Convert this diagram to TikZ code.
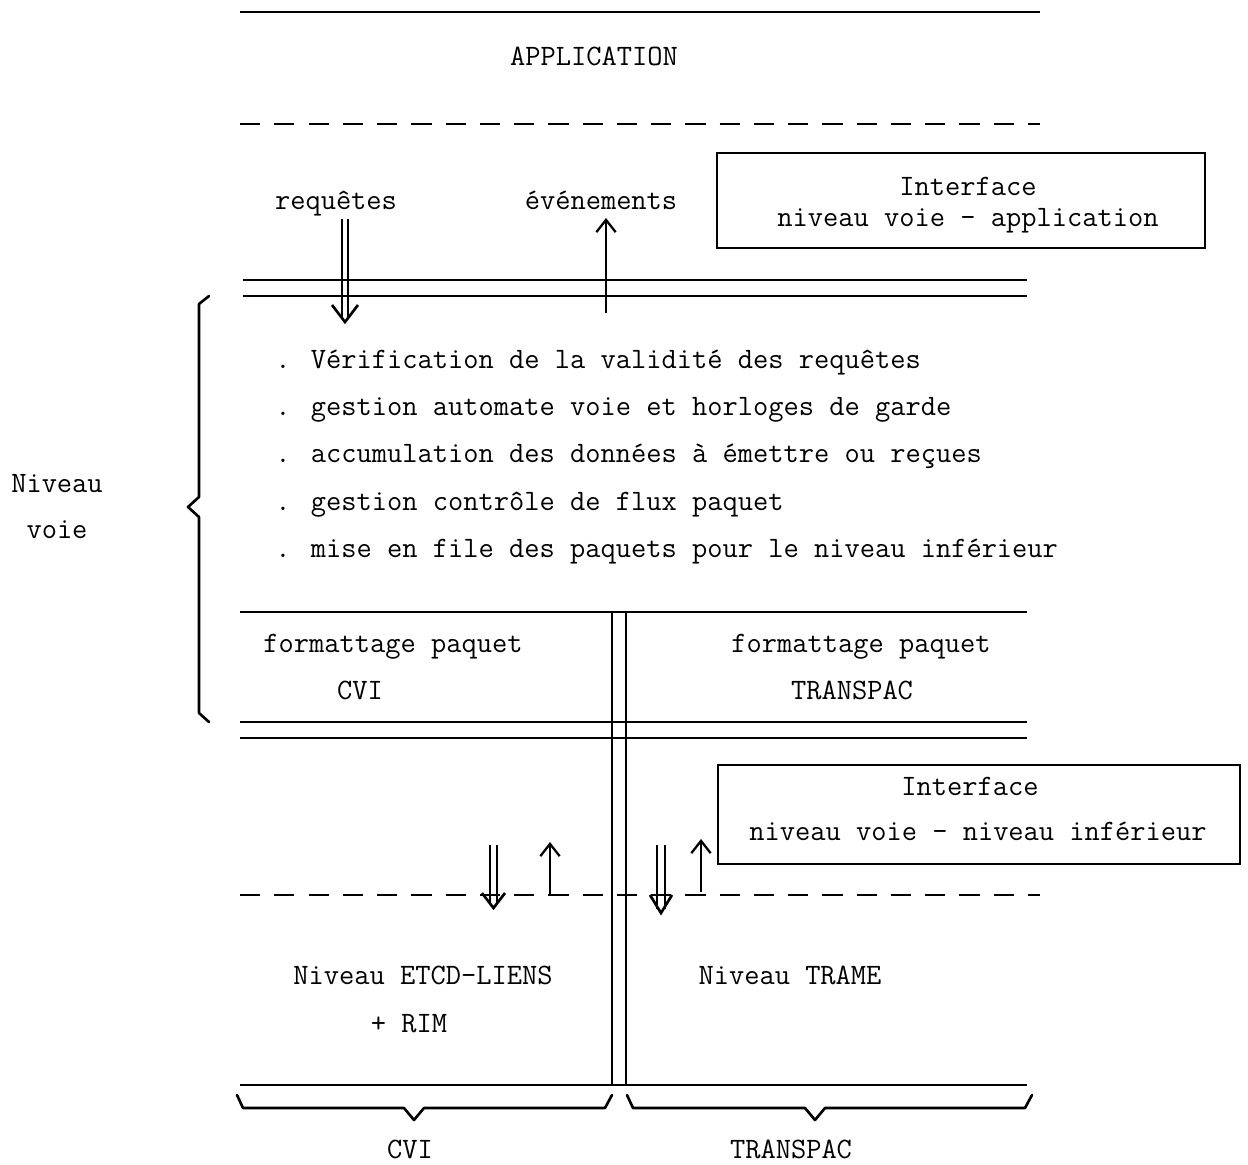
\documentclass[tikz,border=0pt]{standalone}
\usepackage{fontspec}
\usetikzlibrary{arrows.meta}
\begin{document}
\begin{tikzpicture}[x=0.02cm,y=-0.02cm,
  txt/.style={font=\ttfamily\fontsize{16.85}{20}\selectfont, inner sep=0pt, anchor=base},
  ltxt/.style={txt, anchor=base west},
  rule/.style={line width=1.1pt},
  dashrule/.style={line width=1.1pt, dash pattern=on 11.5pt off 8pt},
  ifbox/.style={draw, line width=1pt, inner sep=0pt},
  uparrow/.style={line width=1.2pt, -{Straight Barb[length=7pt,width=11pt,line width=1.3pt]}},
  dblshaft/.style={line width=1.2pt},
  dblhead/.style={line width=1.5pt, line join=miter},
  brace/.style={line width=1.5pt, line join=round, line cap=round}
]
\useasboundingbox (0,0) rectangle (1248,1164);

% layer rules
\draw[rule] (240,12) -- (1040,12);
\node[txt] (app) at (594,65) {APPLICATION};
\draw[dashrule] (240,124) -- (1040,124);

% interface box 1
\node[ifbox, minimum width=9.76cm, minimum height=1.9cm] (if1) at (961,200.5) {};
\node[txt] (if1a) at (968,195) {Interface};
\node[txt] (if1b) at (968,226) {niveau voie - application};

\node[txt] (req) at (336,209) {requêtes};
\node[txt] (evt) at (601,209) {événements};

\draw[rule] (243,280) -- (1027,280);
\draw[rule] (243,296) -- (1027,296);

% requetes double arrow
\coordinate (reqa) at (342,219);
\coordinate (reqb) at (348,219);
\coordinate (reqa2) at (342,318);
\coordinate (reqb2) at (348,318);
\coordinate (reqtip) at (345,322);
\draw[dblshaft] (reqa) -- (reqa2);
\draw[dblshaft] (reqb) -- (reqb2);
\draw[dblhead] (332,305) -- (reqtip) -- (358,305);
% evenements arrow
\coordinate (evb) at (606,313);
\coordinate (evt2) at (606,218);
\draw[uparrow] (evb) -- (evt2);

% bullets
\node[ltxt] (b1) at (275,368) {. Vérification de la validité des requêtes};
\node[ltxt] (b2) at (275,415) {. gestion automate voie et horloges de garde};
\node[ltxt] (b3) at (275,462) {. accumulation des données à émettre ou reçues};
\node[ltxt] (b4) at (275,510) {. gestion contrôle de flux paquet};
\node[ltxt] (b5) at (275,557) {. mise en file des paquets pour le niveau inférieur};

% left brace
\draw[brace] (209,296) -- (199,304) -- (199,497) -- (188,507) -- (199,517) -- (199,713) -- (209,722);
\node[txt] (nv1) at (57,492) {Niveau};
\node[txt] (nv2) at (57,538) {voie};

\draw[rule] (240,612) -- (1027,612);
\draw[rule] (612,612) -- (612,1085);
\draw[rule] (626,612) -- (626,1085);

\node[txt] (fp1) at (393,652) {formattage paquet};
\node[txt] (cvi1) at (360,699) {CVI};
\node[txt] (fp2) at (861,652) {formattage paquet};
\node[txt] (tr1) at (852,699) {TRANSPAC};

\draw[rule] (240,722) -- (1027,722);
\draw[rule] (240,738) -- (1027,738);

% interface box 2
\node[ifbox, minimum width=10.44cm, minimum height=1.98cm] (if2) at (979,814.5) {};
\node[txt] (if2a) at (970,795) {Interface};
\node[txt] (if2b) at (978,840) {niveau voie - niveau inférieur};

\draw[dashrule] (240,895) -- (1040,895);

% lower arrows, left
\coordinate (la1) at (490,845);
\coordinate (la2) at (490,904);
\coordinate (lb1) at (497,845);
\coordinate (lb2) at (497,904);
\draw[dblshaft] (la1) -- (la2);
\draw[dblshaft] (lb1) -- (lb2);
\draw[dblhead] (482,893) -- (493.5,908) -- (505,893);
\coordinate (lu1) at (550,895);
\coordinate (lu2) at (550,842);
\draw[uparrow] (lu1) -- (lu2);

% lower arrows, right
\coordinate (ra1) at (657,845);
\coordinate (ra2) at (657,909);
\coordinate (rb1) at (665,845);
\coordinate (rb2) at (665,909);
\draw[dblshaft] (ra1) -- (ra2);
\draw[dblshaft] (rb1) -- (rb2);
\draw[dblhead] (650,895) -- (661,913) -- (672,895);
\coordinate (ru1) at (701,892);
\coordinate (ru2) at (701,839);
\draw[uparrow] (ru1) -- (ru2);

\node[txt] (etcd) at (423,984) {Niveau ETCD-LIENS};
\node[txt] (rim) at (409,1032) {+ RIM};
\node[txt] (trame) at (790,984) {Niveau TRAME};

\draw[rule] (240,1085) -- (1027,1085);

% bottom braces
\draw[brace] (237,1095) -- (243,1108) -- (404,1108) -- (414,1120) -- (424,1108) -- (605,1108) -- (612,1095);
\draw[brace] (627,1095) -- (633,1108) -- (805,1108) -- (815,1120) -- (825,1108) -- (1025,1108) -- (1032,1095);
\node[txt] (cvi2) at (410,1158) {CVI};
\node[txt] (tr2) at (791,1158) {TRANSPAC};
\end{tikzpicture}
\end{document}
